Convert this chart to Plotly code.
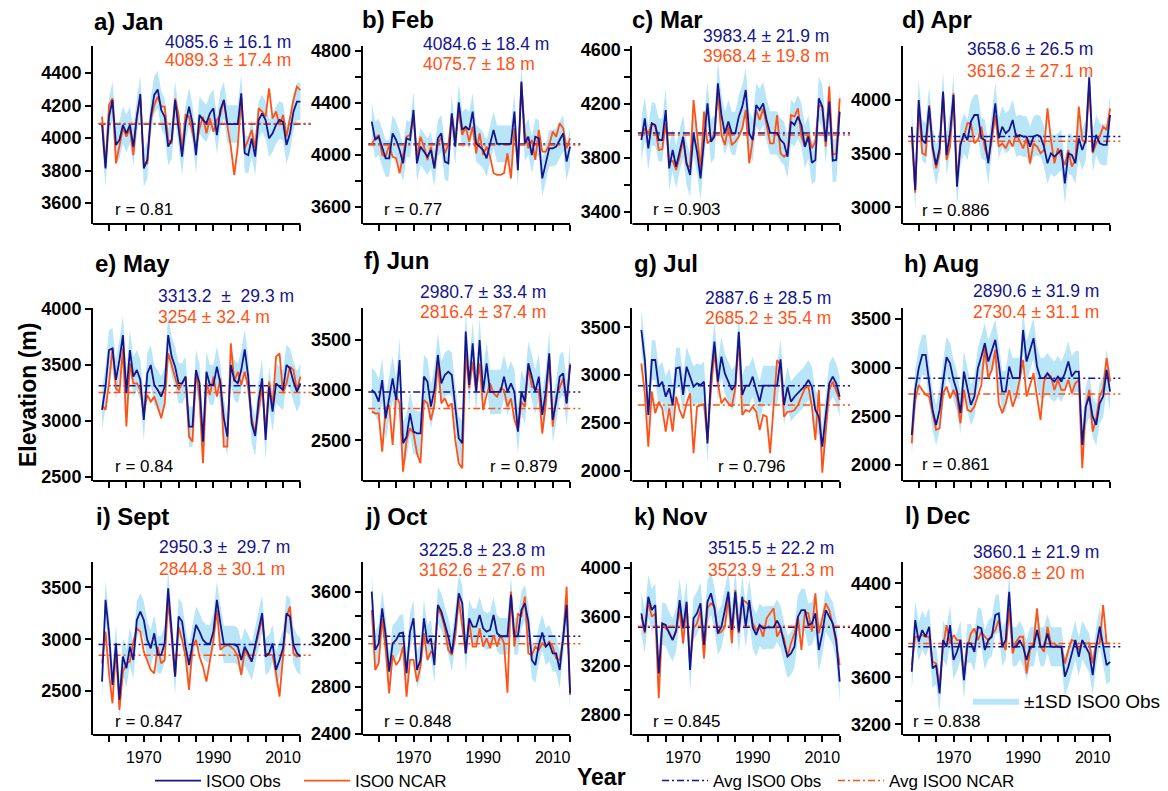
import plotly.graph_objects as go

W, H = 1168, 791
YEARS = list(range(1958, 2016))

OBS_JAN = [4080,3813,4131,4234,3957,3988,4080,4029,4080,3947,4131,4271,3813,3865,4131,4265,4299,4172,4131,3947,
           3988,4234,4059,3885,4090,4193,4090,3895,4142,4111,4090,4152,4183,4018,4172,4234,4086,4086,4086,4086,
           4275,3906,3895,3998,3885,4111,4152,4111,3998,4029,4080,4111,4100,3957,4029,4162,4224,4224]
NCAR_JAN = [4131,3824,4203,4244,3844,3947,4059,4008,4059,3895,4131,4244,3844,3844,4111,4203,4254,4193,4193,3988,
            3967,4244,4142,3916,4142,4131,4039,3936,4059,4131,4029,4121,4039,4111,4142,4234,4080,3947,3772,3947,
            4254,3936,3988,4049,3936,4183,4162,4131,4306,4121,4162,4080,4142,4008,4121,4234,4316,4295]
OBS_FEB = [4255,4115,4140,4051,3974,3974,4166,4115,4038,3936,4128,4115,4345,3936,4064,4026,3987,4038,3898,4128,
           4166,3949,3936,4319,4064,4404,4192,4217,4192,4332,4089,4064,4038,3974,4089,4192,4085,4085,4085,4085,
           4085,4332,3884,4562,4089,4140,4000,4140,4128,3821,3936,4051,4051,4064,4115,4166,3949,4064]
NCAR_FEB = [4084,4128,4153,4000,3987,4077,3987,3974,3860,3987,4140,4153,4281,3987,4140,4064,3962,4064,3898,4089,
            4135,4013,4077,4306,4115,4345,4153,4217,4102,4217,4013,4166,4000,4064,3987,3860,3847,3847,3860,4013,
            3821,4204,3923,4549,4166,4051,4115,3962,4192,4026,4026,4077,4179,4140,4243,4204,4051,4128]
OBS_MAR = [3931,4091,3869,4054,4042,3931,3931,4153,3721,3857,3733,3857,3956,3758,3672,3980,3844,3647,3931,4202,
           3919,3956,4351,4116,3980,4067,3980,3980,4104,4178,4301,3980,3931,4190,4153,4202,4079,3983,3983,3983,
           3931,3906,3807,4067,4042,4104,4042,3881,3956,3763,3783,4239,4178,3919,4215,3778,3783,4141]
NCAR_MAR = [3956,4017,3980,4054,4030,3857,3862,4054,3770,3778,3709,3807,3931,3746,3733,4227,3980,3709,4141,3906,
            3931,3980,4289,3968,3894,4030,3894,3919,3956,4017,4153,3758,3931,4153,4079,4165,4042,3906,3906,4116,
            3832,3807,3832,4116,4104,4165,3956,3881,3980,3869,3919,4190,4178,3881,4326,3820,3832,4239]
OBS_APR = [3751,3161,4000,3627,3596,3938,3565,3394,3549,4078,3487,3689,4047,3192,3581,3689,3627,3798,3860,3860,
           3643,3627,3410,3689,3969,3643,3751,3689,3720,3814,3658,3674,3658,3658,3565,3658,3674,3658,3565,3410,
           3503,3472,3503,3534,3223,3503,3487,3410,3643,3534,3627,4211,3518,3674,3596,3581,3581,3860]
NCAR_APR = [3658,3136,3938,3503,3487,3953,3534,3363,3503,4062,3441,3565,4062,3254,3596,3658,3783,3783,3596,3627,
            3751,3549,3441,3627,3860,3565,3596,3549,3627,3565,3689,3612,3549,3643,3410,3596,3565,3503,3534,3922,
            3627,3410,3549,3472,3394,3534,3379,3441,3938,3627,3596,4140,3503,3596,3658,3751,3720,3922]
OBS_MAY = [3098,3306,3634,3649,3366,3545,3768,3247,3634,3396,3455,3366,3008,3425,3500,3321,3276,3217,3306,3768,
           3575,3485,3336,3336,3396,2949,2949,3455,3336,2814,3440,3321,3321,3485,3336,3023,2859,3500,3366,3336,
           3455,3640,3396,2978,2865,3187,3381,2829,3306,3083,3336,3306,3276,3500,3470,3351,3262,3336]
NCAR_MAY = [3142,3098,3336,3649,3291,3262,3649,2949,3515,3336,3336,3276,3068,3232,3172,3217,3127,3023,3157,3604,
            3500,3396,3276,3336,3396,2859,2814,3455,3202,2621,3336,3232,3396,3217,3381,2770,2770,3694,3351,3440,
            3321,3440,3291,3023,2889,3098,3306,2904,3351,3127,3575,3604,3247,3336,3485,3455,3276,3396]
OBS_JUN = [3000,2967,2884,3099,2718,2934,3116,2901,3298,2470,2536,2768,2586,2569,2569,3133,3083,2834,3000,3348,
           3066,3149,3182,3149,2834,2520,2470,3580,3050,3464,2981,3497,2981,3265,2981,2981,2981,2981,3133,2981,
           3066,2981,2586,2981,2884,3265,3133,2981,3133,2752,2981,3364,2702,2884,3133,3166,2867,3248]
NCAR_JUN = [2785,2768,2768,2387,2818,2851,2453,2950,2867,2188,2503,2619,2569,2371,2271,2901,2867,2702,2851,3282,
            2867,2917,2834,2867,2503,2271,2221,3364,3017,3282,2983,3265,2801,2950,3066,2967,2934,3017,3000,2834,
            2917,2702,2602,2884,2834,3232,3033,3017,3000,2569,2867,3331,2636,2934,3033,3116,2867,3265]
OBS_JUL = [3471,3157,2582,3157,3157,2878,2930,2773,2861,2686,3070,3080,2791,3087,2983,2878,2913,2895,2930,2285,
           2983,3349,2930,3192,3017,2930,2843,2895,3453,2791,2888,2888,2983,2843,2721,2888,2888,2888,2888,2888,
           3164,2686,2878,2721,2773,2808,2843,2888,2948,2878,2634,2564,2250,2599,2913,2983,2913,2773]
NCAR_JUL = [3122,2808,2250,2826,2599,2721,2651,2407,2651,2407,2773,2634,2547,2704,2808,2181,2669,2686,2697,2320,
            2843,3244,2913,2704,2756,2704,2669,2861,3366,2582,2634,2616,2669,2616,2425,2582,2564,2181,2704,3157,
            3105,2564,2616,2616,2634,2686,2773,2861,2878,2669,2320,2843,1978,2460,2843,2930,2843,2738]
OBS_AUG = [2309,2771,2993,3130,3130,2856,2566,2412,2566,2856,3106,3044,2874,2754,2532,2959,2771,2617,2703,2993,
           3113,3250,3062,3164,3284,3044,2754,2754,3010,2891,2891,2891,3386,3062,3181,3301,3010,2891,2891,2942,
           2891,2856,2908,2856,2942,3062,2908,2959,2959,2207,2600,2703,2497,2412,2634,2703,2976,2754]
NCAR_AUG = [2224,2668,2822,2771,2720,2703,2515,2361,2378,2737,2805,2685,2771,2685,2429,2771,2566,2549,2600,2703,
            2822,3198,2891,2976,3181,2634,2532,2634,2771,2600,2703,2874,3079,2703,2822,2942,2703,2463,2856,2942,
            2908,2771,2874,2771,2771,2874,2737,2839,2874,1967,2600,2771,2344,2480,2703,2788,3096,2856]
OBS_SEP = [2591,3380,3058,2559,2961,2414,2833,2720,2929,2800,3187,3267,3187,2994,2913,3058,2849,2849,2961,3492,
           3074,2640,3219,3171,2929,2752,2961,3138,3074,2994,2961,2955,3074,3380,3154,2950,2950,2950,2950,2929,
           2800,2929,2865,2784,2929,3090,3251,2833,2865,2961,2704,2800,2913,3251,3219,2945,2865,2833]
NCAR_SEP = [2768,3074,2672,2382,2913,2318,2688,2768,2784,2977,3106,3074,2881,2784,2704,2672,2929,2768,2800,3380,
            2994,2640,3122,2994,2833,2511,2929,2994,2833,2736,2591,2800,2994,3283,2897,2929,2945,2929,2897,2833,
            2656,2897,2833,2784,2913,3058,3203,2865,2849,2849,2672,2447,2800,3219,3315,2865,2833,2849]
OBS_OCT = [3604,3110,3166,3463,3237,2926,3166,3194,3251,3257,2912,3265,3378,2940,3025,3378,3166,3208,2982,3491,
           3434,3336,3223,3081,3307,3590,3505,3081,3378,3307,3307,3406,3293,3265,3279,3406,3251,3226,3226,3226,
           3576,3226,3226,3449,3505,3350,3025,2982,3152,3257,3138,3166,3081,3081,2940,3194,3491,2742]
NCAR_OCT = [3449,2940,2997,3378,3110,2742,3067,2982,3025,3138,2714,3025,3025,2841,2968,3251,3025,3095,3067,3463,
            3406,3293,3110,3067,3223,3547,3307,3081,3350,3138,3138,3293,3138,3208,3124,3237,3138,3237,3166,2748,
            3604,3138,3420,3392,3562,3081,3067,3138,3110,3166,3138,3180,3138,3039,3025,3194,3646,2728]
OBS_NOV = [3630,3480,3766,3657,3698,3139,3548,3535,3466,3412,3494,3739,3507,3725,3167,3589,3630,3712,3371,3725,
           3794,3671,3466,3521,3657,3807,3494,3807,3480,3766,3521,3739,3515,3453,3535,3507,3515,3515,3515,3570,
           3515,3385,3276,3303,3357,3603,3657,3657,3535,3548,3630,3330,3466,3657,3603,3548,3412,3071]
NCAR_NOV = [3603,3466,3725,3603,3630,2935,3548,3507,3480,3412,3480,3671,3385,3712,3221,3507,3548,3657,3262,3671,
            3712,3685,3466,3480,3521,3766,3385,3821,3466,3739,3725,3698,3548,3494,3521,3439,3589,3630,3671,3439,
            3494,3426,3276,3385,3466,3603,3330,3644,3630,3480,3794,3466,3603,3712,3657,3535,3385,3207]
OBS_DEC = [3647,4087,3903,4002,3945,4030,3676,3704,3463,3917,3860,4044,3747,3817,3917,3576,3888,3888,3817,4030,
           4016,3832,3917,3945,4130,4144,3860,3917,4328,3860,3860,3917,3860,3747,3860,3860,4002,3860,3860,3973,
           3860,3860,3860,3860,3605,3690,3803,3917,3775,3917,3860,3803,3619,3860,4030,3860,3704,3732]
NCAR_DEC = [3704,3945,3945,3959,3945,3945,3732,3718,3520,3860,4044,3888,3959,3917,3917,3605,3860,3973,4016,3917,
            3988,3945,3917,3959,4002,4087,3903,3832,4186,3803,3903,3945,3945,3633,3832,3888,4186,3860,3817,4030,
            3888,3888,3860,3860,3718,3832,3917,3903,3832,3903,3888,3888,3718,3888,3888,4215,3888,3888]

PANEL_TITLES = ["a) Jan", "b) Feb", "c) Mar", "d) Apr", "e) May", "f) Jun",
                "g) Jul", "h) Aug", "i) Sept", "j) Oct", "k) Nov", "l) Dec"]
OBS_MEAN = [4085.6, 4084.6, 3983.4, 3658.6, 3313.2, 2980.7, 2887.6, 2890.6, 2950.3, 3225.8, 3515.5, 3860.1]
NCAR_MEAN = [4089.3, 4075.7, 3968.4, 3616.2, 3254, 2816.4, 2685.2, 2730.4, 2844.8, 3162.6, 3523.9, 3886.8]
NB = "\u00a0"
OBS_LABELS = ["4085.6 ± 16.1 m", "4084.6 ± 18.4 m", "3983.4 ± 21.9 m", "3658.6 ± 26.5 m",
              "3313.2" + NB + " ±" + NB + " 29.3 m", "2980.7 ± 33.4 m", "2887.6 ± 28.5 m", "2890.6 ± 31.9 m",
              "2950.3 ±" + NB + " 29.7 m", "3225.8 ± 23.8 m", "3515.5 ± 22.2 m", "3860.1 ± 21.9 m"]
NCAR_LABELS = ["4089.3 ± 17.4 m", "4075.7 ± 18 m", "3968.4 ± 19.8 m", "3616.2 ± 27.1 m",
               "3254 ± 32.4 m", "2816.4 ± 37.4 m", "2685.2 ± 35.4 m", "2730.4 ± 31.1 m",
               "2844.8 ± 30.1 m", "3162.6 ± 27.6 m", "3523.9 ± 21.3 m", "3886.8 ± 20 m"]
R_VALUES = ["0.81", "0.77", "0.903", "0.886", "0.84", "0.879", "0.796", "0.861", "0.847", "0.848", "0.845", "0.838"]
SD_BAND = [115, 140, 160, 190, 180, 220, 210, 210, 180, 155, 175, 165]

Y_MIN = [3471, 3471, 3309, 2844, 2462, 2095, 1891, 1837, 2076, 2389, 2635, 3109]
Y_MAX = [4566, 4835, 4627, 4503, 4010, 3815, 3701, 3611, 3746, 3855, 4050, 4581]
TICK_FIRST = [3600, 3600, 3400, 3000, 2500, 2500, 2000, 2000, 2500, 2400, 2800, 3200]
TICK_LAST = [4400, 4800, 4600, 4000, 4000, 3500, 3500, 3500, 3500, 3600, 4000, 4400]
TICK_STEP = [200, 200, 200, 500, 500, 500, 500, 500, 500, 200, 200, 200]
LABEL_STEP = [200, 400, 400, 500, 500, 500, 500, 500, 500, 400, 400, 400]
X_TICKS = list(range(1960, 2016, 5))
X_LABELS = [1970, 1990, 2010]

OBS = [OBS_JAN, OBS_FEB, OBS_MAR, OBS_APR, OBS_MAY, OBS_JUN, OBS_JUL, OBS_AUG, OBS_SEP, OBS_OCT, OBS_NOV, OBS_DEC]
NCAR = [NCAR_JAN, NCAR_FEB, NCAR_MAR, NCAR_APR, NCAR_MAY, NCAR_JUN, NCAR_JUL, NCAR_AUG, NCAR_SEP, NCAR_OCT,
        NCAR_NOV, NCAR_DEC]

FONT = "Liberation Sans, Arial, Helvetica, sans-serif"
NAVY = "#15158c"
ORANGE = "#ff5216"
BAND = "#b8e6f8"
DASH = "7px,3px,2px,3px"

# layout geometry (pixels)
COL_X0 = [93, 362.7, 632.3, 902.7]
ROW_Y = [(46, 224), (308, 481), (562, 735)]
X_MIN, X_MAX = 1955.4, 2018.0
PX_PER_YEAR = 3.48
TITLE_POS = [(93, 21), (361, 20), (631, 20), (901, 20), (94, 263), (363, 260), (633, 263), (903, 263),
             (95, 516), (364, 516), (633, 516), (904, 515)]
STAT_POS = [(164, 41.7, 60.5), (422, 44, 63.8), (701.7, 35.7, 55.5), (965.7, 49, 71.2),
            (157.3, 295.7, 317.2), (419, 291.7, 311.5), (704, 298.3, 318.2), (971.7, 290.7, 311.5),
            (158.3, 547.3, 568.8), (418.3, 550.2, 569.8), (707.3, 548.3, 569.8), (971.7, 552.3, 573.2)]
R_POS = [(114, 210), (383, 210), (652, 210), (921, 210.7), (114, 466.7), (489, 466), (717, 466), (921, 465),
         (114, 721.7), (383, 721.7), (652, 721.7), (912, 721.7)]
LEGEND_Y = 781


def ann(text, xpx, ypx, size, color="black", weight="normal", xanchor="left", angle=0):
    return dict(text=text, x=xpx / W, y=1 - ypx / H, xref="paper", yref="paper", xanchor=xanchor,
                yanchor="middle", showarrow=False, textangle=angle, borderpad=0,
                font=dict(family=FONT, size=size, color=color, weight=weight))


fig = go.Figure()
layout = {}
annotations = []
shapes = []

for k in range(12):
    r, c = divmod(k, 4)
    sfx = "" if k == 0 else str(k + 1)
    xa, ya = "x" + sfx, "y" + sfx
    x0 = COL_X0[c]
    x1 = x0 + (X_MAX - X_MIN) * PX_PER_YEAR
    ytop, ybot = ROW_Y[r]
    obs, ncar, sd = OBS[k], NCAR[k], SD_BAND[k]
    upper = [v + sd for v in obs]
    lower = [v - sd for v in obs]

    fig.add_trace(go.Scatter(x=YEARS + YEARS[::-1], y=upper + lower[::-1], fill="toself", fillcolor=BAND,
                             mode="lines", line=dict(width=0, color=BAND), xaxis=xa, yaxis=ya,
                             name="±1SD ISO0 Obs", showlegend=(k == 11), legend="legend3", hoverinfo="skip"))
    fig.add_trace(go.Scatter(x=[1957.0, X_MAX], y=[OBS_MEAN[k]] * 2, mode="lines",
                             line=dict(color=NAVY, width=1.5, dash=DASH), xaxis=xa, yaxis=ya,
                             name="Avg ISO0 Obs", showlegend=(k == 0), legend="legend2"))
    fig.add_trace(go.Scatter(x=[1957.0, X_MAX], y=[NCAR_MEAN[k]] * 2, mode="lines",
                             line=dict(color=ORANGE, width=1.5, dash=DASH), xaxis=xa, yaxis=ya,
                             name="Avg ISO0 NCAR", showlegend=(k == 0), legend="legend5"))
    fig.add_trace(go.Scatter(x=YEARS, y=ncar, mode="lines", line=dict(color=ORANGE, width=1.8),
                             xaxis=xa, yaxis=ya, name="ISO0 NCAR", showlegend=(k == 0), legend="legend4"))
    fig.add_trace(go.Scatter(x=YEARS, y=obs, mode="lines", line=dict(color=NAVY, width=1.8),
                             xaxis=xa, yaxis=ya, name="ISO0 Obs", showlegend=(k == 0), legend="legend"))

    ytv = list(range(TICK_FIRST[k], TICK_LAST[k] + 1, TICK_STEP[k]))
    ytt = [str(v) if (v - TICK_FIRST[k]) % LABEL_STEP[k] == 0 else "" for v in ytv]
    xtt = [str(v) if (r == 2 and v in X_LABELS) else "" for v in X_TICKS]

    layout["xaxis" + sfx] = dict(domain=[x0 / W, x1 / W], range=[X_MIN, X_MAX], anchor=ya, showline=False,
                                 zeroline=False, showgrid=False, ticks="outside", ticklen=6, tickwidth=1.5,
                                 tickcolor="black", tickvals=X_TICKS, ticktext=xtt, ticklabelstandoff=2,
                                 tickfont=dict(family=FONT, size=16, color="black"), automargin=False)
    layout["yaxis" + sfx] = dict(domain=[1 - ybot / H, 1 - ytop / H], range=[Y_MIN[k], Y_MAX[k]], anchor=xa,
                                 showline=True, linewidth=2, linecolor="black", zeroline=False, showgrid=False,
                                 ticks="outside", ticklen=6, tickwidth=1.5, tickcolor="black", tickvals=ytv,
                                 ticktext=ytt, tickfont=dict(family=FONT, size=18, color="black", weight="bold"),
                                 automargin=False)
    shapes.append(dict(type="line", xref=xa, yref=ya + " domain", x0=X_MIN, x1=2015, y0=0, y1=0,
                       line=dict(color="black", width=2)))

    tx, ty = TITLE_POS[k]
    annotations.append(ann(PANEL_TITLES[k], tx, ty, 24, weight="bold"))
    sx, sy1, sy2 = STAT_POS[k]
    annotations.append(ann(OBS_LABELS[k], sx, sy1, 17.5, color=NAVY))
    annotations.append(ann(NCAR_LABELS[k], sx, sy2, 17.5, color=ORANGE))
    rx, ry = R_POS[k]
    annotations.append(ann("r = " + R_VALUES[k], rx, ry, 17))

annotations.append(ann("Year", 601, 777, 23, weight="bold", xanchor="center"))
annotations.append(ann("Elevation (m)", 28, 395, 23, weight="bold", xanchor="center", angle=-90))


def bottom_legend(xpx, ypx=LEGEND_Y, size=17):
    return dict(x=xpx / W, y=1 - ypx / H, xanchor="left", yanchor="middle", orientation="h",
                font=dict(family=FONT, size=size, color="black"), bgcolor="rgba(0,0,0,0)", itemwidth=46)


layout.update(
    width=W, height=H, margin=dict(l=0, r=0, t=0, b=0, pad=0, autoexpand=False),
    paper_bgcolor="white", plot_bgcolor="white",
    annotations=annotations, shapes=shapes, showlegend=True,
    legend=bottom_legend(150),
    legend4=bottom_legend(299),
    legend2=bottom_legend(657),
    legend5=bottom_legend(833),
    legend3=bottom_legend(968, 701, 19),
)
fig.update_layout(**layout)
fig.write_html("out.html")
